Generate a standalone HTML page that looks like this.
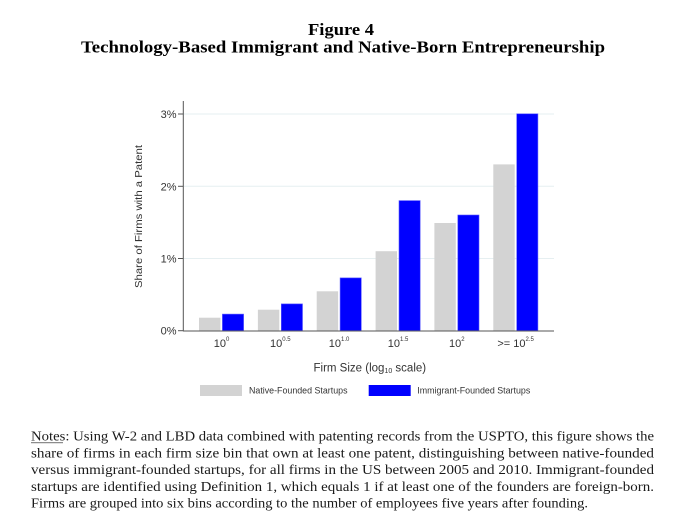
<!DOCTYPE html>
<html>
<head>
<meta charset="utf-8">
<style>
  html, body { margin:0; padding:0; background:#fff; }
  svg { display:block; }
  .sans { font-family: "Liberation Sans", Arial, sans-serif; }
  .serif { font-family: "Liberation Serif", "Times New Roman", serif; }
</style>
</head>
<body>
<svg width="681" height="527" viewBox="0 0 681 527" xmlns="http://www.w3.org/2000/svg">
  <rect x="0" y="0" width="681" height="527" fill="#ffffff"/>

  <!-- Title -->
  <text class="serif" x="308" y="35" font-size="17" font-weight="bold" fill="#000" textLength="66" lengthAdjust="spacingAndGlyphs">Figure 4</text>
  <text class="serif" x="81" y="52.5" font-size="17" font-weight="bold" fill="#000" textLength="524" lengthAdjust="spacingAndGlyphs">Technology-Based Immigrant and Native-Born Entrepreneurship</text>

  <!-- Gridlines -->
  <g stroke="#e6eff1" stroke-width="1">
    <line x1="183" y1="114" x2="554" y2="114"/>
    <line x1="183" y1="186.3" x2="554" y2="186.3"/>
    <line x1="183" y1="258.5" x2="554" y2="258.5"/>
  </g>

  <!-- Bars: gray -->
  <g fill="#d3d3d3">
    <rect x="199" y="317.7" width="21.4" height="13"/>
    <rect x="257.9" y="309.7" width="21.4" height="21"/>
    <rect x="316.7" y="291.3" width="21.4" height="39.4"/>
    <rect x="375.6" y="251.2" width="21.4" height="79.5"/>
    <rect x="434.4" y="223" width="21.4" height="107.7"/>
    <rect x="493.3" y="164.4" width="21.4" height="166.3"/>
  </g>
  <!-- Bars: blue -->
  <g fill="#0000ff" stroke="#5a5aff" stroke-width="0.6">
    <rect x="222.4" y="314.1" width="21.2" height="16.6"/>
    <rect x="281.3" y="303.9" width="21.2" height="26.8"/>
    <rect x="340.1" y="277.9" width="21.2" height="52.8"/>
    <rect x="399" y="200.6" width="21.2" height="130.1"/>
    <rect x="457.8" y="215" width="21.2" height="115.7"/>
    <rect x="516.7" y="113.8" width="21.2" height="216.9"/>
  </g>

  <!-- Axes -->
  <g stroke="#555" stroke-width="1">
    <line x1="183.3" y1="101" x2="183.3" y2="331.2"/>
    <line x1="183" y1="331" x2="554" y2="331"/>
    <line x1="178" y1="114" x2="183.3" y2="114"/>
    <line x1="178" y1="186.3" x2="183.3" y2="186.3"/>
    <line x1="178" y1="258.5" x2="183.3" y2="258.5"/>
    <line x1="178" y1="330.7" x2="183.3" y2="330.7"/>
  </g>

  <!-- Y tick labels -->
  <g class="sans" font-size="11" fill="#333" text-anchor="end">
    <text x="176.5" y="118">3%</text>
    <text x="176.5" y="190.3">2%</text>
    <text x="176.5" y="262.5">1%</text>
    <text x="176.5" y="334.7">0%</text>
  </g>

  <!-- Y axis title -->
  <text class="sans" font-size="10.5" fill="#333" text-anchor="middle" transform="translate(142.2,216.5) rotate(-90)" textLength="143" lengthAdjust="spacingAndGlyphs">Share of Firms with a Patent</text>

  <!-- X tick labels -->
  <g class="sans" font-size="11" fill="#333" text-anchor="middle">
    <text x="221.5" y="347">10<tspan font-size="6" dy="-6">0</tspan></text>
    <text x="280.3" y="347">10<tspan font-size="6" dy="-6">0.5</tspan></text>
    <text x="339.1" y="347">10<tspan font-size="6" dy="-6">1.0</tspan></text>
    <text x="398" y="347">10<tspan font-size="6" dy="-6">1.5</tspan></text>
    <text x="456.8" y="347">10<tspan font-size="6" dy="-6">2</tspan></text>
    <text x="515.6" y="347">&gt;= 10<tspan font-size="6" dy="-6">2.5</tspan></text>
  </g>

  <!-- X axis title -->
  <text class="sans" font-size="11.5" fill="#333" x="313.5" y="371.5">Firm Size (log<tspan font-size="7" dy="1.5">10</tspan><tspan dy="-1.5"> scale)</tspan></text>

  <!-- Legend -->
  <rect x="200" y="385" width="42" height="11" fill="#d3d3d3"/>
  <text class="sans" font-size="9" fill="#333" x="249" y="393.5" textLength="98.5" lengthAdjust="spacingAndGlyphs">Native-Founded Startups</text>
  <rect x="368.7" y="385" width="42" height="11" fill="#0000ff"/>
  <text class="sans" font-size="9" fill="#333" x="417.3" y="393.5" textLength="113" lengthAdjust="spacingAndGlyphs">Immigrant-Founded Startups</text>

  <!-- Notes -->
  <g class="serif" font-size="13.6" fill="#1a1a1a">
    <text x="31" y="440.5" textLength="623" lengthAdjust="spacingAndGlyphs">Notes: Using W-2 and LBD data combined with patenting records from the USPTO, this figure shows the</text>
    <text x="31" y="457.3" textLength="623" lengthAdjust="spacingAndGlyphs">share of firms in each firm size bin that own at least one patent, distinguishing between native-founded</text>
    <text x="31" y="474.1" textLength="623" lengthAdjust="spacingAndGlyphs">versus immigrant-founded startups, for all firms in the US between 2005 and 2010. Immigrant-founded</text>
    <text x="31" y="490.9" textLength="623" lengthAdjust="spacingAndGlyphs">startups are identified using Definition 1, which equals 1 if at least one of the founders are foreign-born.</text>
    <text x="31" y="507.7" textLength="557" lengthAdjust="spacingAndGlyphs">Firms are grouped into six bins according to the number of employees five years after founding.</text>
  </g>
  <line x1="31" y1="442.8" x2="63" y2="442.8" stroke="#1a1a1a" stroke-width="0.7"/>
</svg>
</body>
</html>
